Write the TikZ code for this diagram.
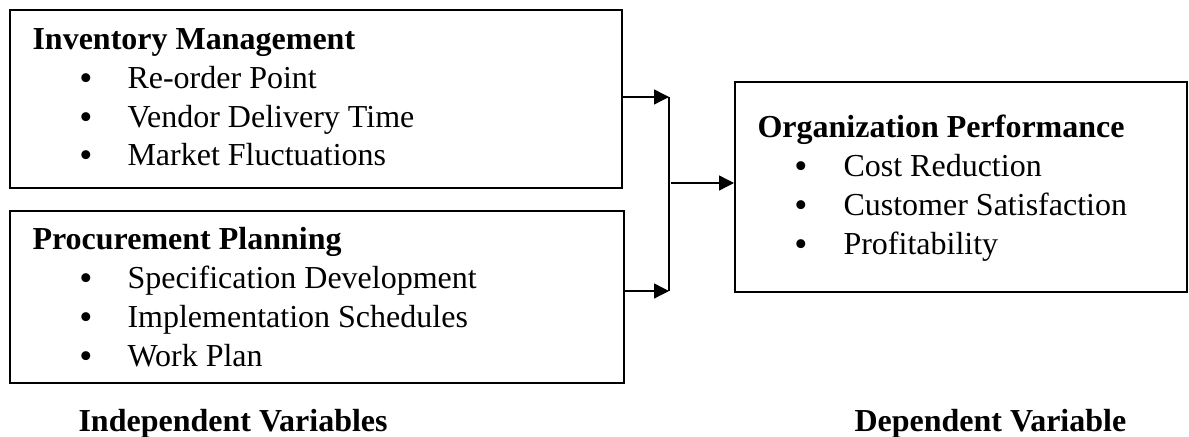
\documentclass[tikz,border=0pt]{standalone}
\usepackage{fontspec}
\setmainfont{Liberation Serif}
\usetikzlibrary{arrows.meta}

\tikzset{
  varbox/.style={draw, line width=0.75pt, inner sep=0pt},
  head/.style={anchor=base west, inner sep=0pt, font=\fontsize{12}{14}\selectfont\bfseries},
  item/.style={anchor=base west, inner sep=0pt, font=\fontsize{12}{14}\selectfont},
  dot/.style={anchor=base, inner sep=0pt, yshift=-0.75pt, font=\fontsize{14}{16}\selectfont},
  link/.style={line width=0.5pt},
  arr/.style={link, -{Triangle[length=5.6pt, width=5.6pt]}}
}

\begin{document}
\begin{tikzpicture}[x=0.375pt, y=-0.375pt]
  \useasboundingbox (0,0) rectangle (1189,437);
  % boxes
  \node[varbox, minimum width=229.5pt, minimum height=66.75pt] (inv) at (316,99) {};
  \node[varbox, minimum width=230.25pt, minimum height=64.5pt] (proc) at (317,297) {};
  \node[varbox, minimum width=169.5pt, minimum height=78.75pt] (perf) at (961,187) {};
  % inventory management
  \node[head] (invhead) at (32,50) {Inventory Management};
  \node[dot] (invb1) at (86,88.7) {\textbullet};
  \node[item] (inv1) at (127,88.7) {Re-order Point};
  \node[dot] (invb2) at (86,127.4) {\textbullet};
  \node[item] (inv2) at (127,127.4) {Vendor Delivery Time};
  \node[dot] (invb3) at (86,166) {\textbullet};
  \node[item] (inv3) at (127,166) {Market Fluctuations};
  % procurement planning
  \node[head] (prochead) at (32,250) {Procurement Planning};
  \node[dot] (procb1) at (86,289) {\textbullet};
  \node[item] (proc1) at (127,289) {Specification Development};
  \node[dot] (procb2) at (86,328) {\textbullet};
  \node[item] (proc2) at (127,328) {Implementation Schedules};
  \node[dot] (procb3) at (86,367) {\textbullet};
  \node[item] (proc3) at (127,367) {Work Plan};
  % organization performance
  \node[head] (perfhead) at (757,138) {Organization Performance};
  \node[dot] (perfb1) at (801,177) {\textbullet};
  \node[item] (perf1) at (843,177) {Cost Reduction};
  \node[dot] (perfb2) at (801,216) {\textbullet};
  \node[item] (perf2) at (843,216) {Customer Satisfaction};
  \node[dot] (perfb3) at (801,255) {\textbullet};
  \node[item] (perf3) at (843,255) {Profitability};
  % captions
  \node[head] (indep) at (78,432) {Independent Variables};
  \node[head] (dep) at (854,432) {Dependent Variable};
  % connectors
  \coordinate (jtop) at (669,97);
  \coordinate (jbot) at (669,291);
  \coordinate (jmid) at (671,183);
  \draw[arr] (inv.east |- jtop) -- (jtop);
  \draw[arr] (proc.east |- jbot) -- (jbot);
  \draw[link] (jtop) -- (jbot);
  \draw[arr] (jmid) -- (perf.west |- jmid);
\end{tikzpicture}
\end{document}
